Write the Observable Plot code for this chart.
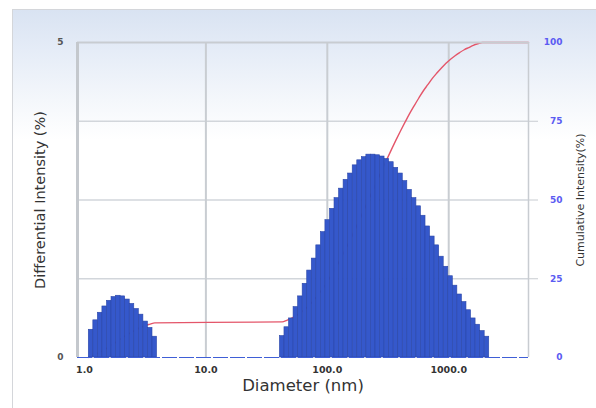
<!DOCTYPE html>
<html>
<head>
<meta charset="utf-8">
<script src="https://cdn.jsdelivr.net/npm/d3@7"></script>
<script src="https://cdn.jsdelivr.net/npm/@observablehq/plot@0.6"></script>
<style>
  html, body { margin: 0; padding: 0; background: #fff; }
  #wrap { position: relative; width: 596px; height: 408px; overflow: hidden; }
  #panel {
    position: absolute; left: 12px; top: 9px; right: -2px; bottom: -2px;
    border-top: 1px solid #d4d6da; border-left: 1px solid #d4d6da;
    background: linear-gradient(to bottom, #d9e3f2 0px, #e5ecf7 40px, #f4f7fb 90px, #ffffff 130px);
  }
  #chart { position: absolute; left: 0; top: 0; }
</style>
</head>
<body>
<div id="wrap"><div id="panel"></div><div id="chart"></div></div>
<script>
// Size classes (bin centres, nm)
const diameter = [
  1.133, 1.235, 1.346, 1.467, 1.600, 1.744, 1.901, 2.073, 2.259, 2.463, 2.685, 2.927, 3.191, 3.479, 3.792,
  42.50, 46.33, 50.51, 55.06, 60.02, 65.43, 71.33, 77.76, 84.76, 92.40,
  100.7, 109.8, 119.7, 130.5, 142.2, 155.1, 169.0, 184.3, 200.9, 219.0,
  238.7, 260.2, 283.7, 309.3, 337.2, 367.5, 400.6, 436.8, 476.1, 519.0,
  565.8, 616.8, 672.4, 733.0, 799.0, 871.0, 949.6, 1035, 1128, 1230,
  1341, 1462, 1594, 1738, 1894, 2065
];
// Differential intensity per class (%)
const intensity = [
  0.44, 0.59, 0.71, 0.81, 0.90, 0.96, 0.98, 0.97, 0.92, 0.85, 0.77, 0.68, 0.57, 0.47, 0.33,
  0.34, 0.48, 0.62, 0.80, 0.97, 1.17, 1.38, 1.57, 1.78, 1.99,
  2.18, 2.36, 2.53, 2.68, 2.82, 2.92, 3.05, 3.13, 3.18, 3.22,
  3.22, 3.21, 3.19, 3.15, 3.10, 3.01, 2.92, 2.80, 2.66, 2.53,
  2.40, 2.25, 2.08, 1.92, 1.78, 1.60, 1.44, 1.29, 1.14, 1.00,
  0.88, 0.75, 0.62, 0.52, 0.42, 0.33
];
// Cumulative intensity per class (%)
const cumulative = [
  0.4, 1.0, 1.7, 2.5, 3.5, 4.4, 5.4, 6.4, 7.3, 8.1, 8.9, 9.6, 10.2, 10.6, 11.0,
  11.3, 11.8, 12.4, 13.2, 14.2, 15.3, 16.7, 18.3, 20.1, 22.0,
  24.2, 26.6, 29.1, 31.8, 34.6, 37.5, 40.6, 43.7, 46.9, 50.1,
  53.3, 56.5, 59.7, 62.9, 66.0, 69.0, 71.9, 74.7, 77.4, 79.9,
  82.3, 84.6, 86.6, 88.6, 90.3, 91.9, 93.4, 94.7, 95.8, 96.8,
  97.7, 98.4, 99.1, 99.6, 100.0, 100.0
];

const xDomain = [0.876, 4540];
const xTicks = [1, 10, 100, 1000];
const leftTicks = [0, 5];
const rightTicks = [0, 25, 50, 75, 100];

// Each class spans a constant width on the log axis
const halfStep = Math.pow(10, 0.03748 / 2);
const bins = diameter.map((d, i) => ({
  d, x1: d / halfStep, x2: d * halfStep, v: intensity[i], c: cumulative[i]
}));
const curvePts = [{d: bins[0].x1, c: 0}, ...bins, {d: xDomain[1], c: 100}];

// Right axis (0-100 %) shares the frame with the left axis (0-5 %)
const toLeft = c => c / 20;

const chart = Plot.plot({
  width: 596,
  height: 408,
  marginLeft: 77,
  marginRight: 68,
  marginTop: 42,
  marginBottom: 51,
  style: {background: "transparent", fontFamily: "'DejaVu Sans', sans-serif", overflow: "visible"},
  x: {type: "log", domain: xDomain},
  y: {domain: [0, 5]},
  marks: [
    Plot.ruleY(rightTicks.slice(1, 4).map(toLeft), {stroke: "#d2d6db", strokeWidth: 1.5}),
    Plot.ruleX([10, 100, 1000], {stroke: "#c9cdd2", strokeWidth: 2}),
    Plot.line(curvePts, {x: "d", y: d => toLeft(d.c), stroke: "#e4566a", strokeWidth: 1.4, curve: "monotone-x"}),
    Plot.rectY(bins, {x1: "x1", x2: "x2", y1: 0, y2: "v", fill: "#3558cb", stroke: "#2a46a8", strokeWidth: 0.6}),
    Plot.ruleY([5], {stroke: "#c8ccd1", strokeWidth: 2}),
    Plot.ruleX([xDomain[0]], {stroke: "#c4c8cd", strokeWidth: 3}),
    Plot.ruleX([xDomain[1]], {stroke: "#c8ccd1", strokeWidth: 1.5}),
    Plot.ruleY([0], {stroke: "#3f5fd6", strokeWidth: 1.2, strokeDasharray: "15,2"}),
    Plot.axisX(xTicks, {tickSize: 0, tickPadding: 9, tickFormat: d3.format(".1f"), fontWeight: "bold", fontSize: 9.5, fill: "#333", label: null}),
    Plot.axisY(rightTicks.slice(1, 4).map(toLeft), {anchor: "right", tickSize: 9, stroke: "#c8ccd1", tickFormat: () => "", label: null}),
    Plot.text(leftTicks, {y: d => d, frameAnchor: "left", dx: -14, textAnchor: "end", text: d => String(d), fontWeight: "bold", fontSize: 9, fill: "#555"}),
    Plot.text(rightTicks, {y: toLeft, frameAnchor: "right", dx: 34, textAnchor: "end", text: d => String(d), fontWeight: "bold", fontSize: 9, fill: "#5b5bf2"}),
    Plot.text(["Diameter (nm)"], {frameAnchor: "bottom", dy: 33, fontSize: 16.5, fill: "#333"}),
    Plot.text(["Differential Intensity (%)"], {frameAnchor: "left", dx: -37, rotate: -90, textAnchor: "middle", fontSize: 14.5, fill: "#333"}),
    Plot.text(["Cumulative Intensity(%)"], {frameAnchor: "right", dx: 52, rotate: -90, textAnchor: "middle", fontSize: 11, fill: "#333"})
  ]
});
document.getElementById("chart").appendChild(chart);
</script>
</body>
</html>
